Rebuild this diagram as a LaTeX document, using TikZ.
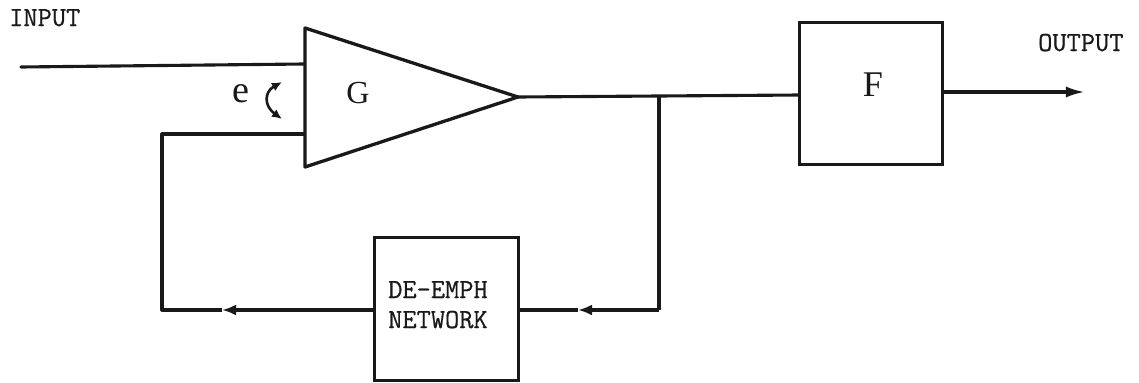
\documentclass[tikz,border=0pt]{standalone}
\usepackage{fontspec}
\setmainfont{Liberation Serif}
\newfontfamily\twfont[FakeBold=0.6]{Latin Modern Mono}
\usetikzlibrary{arrows.meta}
\tikzset{
 wire/.style={line width=3.1pt,black!90},
 box/.style={draw=black!90,line width=3.3pt,fill=white,inner sep=0pt},
 lab/.style={inner sep=0pt,font=\twfont\fontsize{27.5}{30}\selectfont,black!90},
 big/.style={inner sep=0pt,black!90},
 tip/.style={-{Latex[length=14pt,width=11pt]}}
}
\begin{document}
\begin{tikzpicture}[x=0.99626pt,y=-0.99626pt]
\useasboundingbox (0,0) rectangle (1139,382);
\fill[white] (0,0) rectangle (1139,382);
\coordinate (in) at (21,67);
\coordinate (inb) at (304,64);
\coordinate (fbt) at (304,134);
\coordinate (fbc) at (162,134);
\coordinate (fbb) at (162,310);
\coordinate (tip) at (518,97);
\coordinate (tap) at (659,97);
\coordinate (tapb) at (659,310);
\coordinate (out) at (1085,92);
\coordinate (f1) at (800,95);
\coordinate (d1) at (518,310);
\coordinate (d2) at (375,310);
\draw[wire,line cap=round] (in) -- (inb);
\draw[line width=3.3pt,black!90,line join=round] (305,28) -- (tip) -- (305,167) -- cycle;
\node[box,minimum width=143pt,minimum height=141pt] (f) at (871,93.5) {};
\node[box,minimum width=143pt,minimum height=142pt] (de) at (446.5,309) {};
\node[lab,anchor=base west] (l1) at (388,298) {DE-EMPH};
\node[lab,anchor=base west] (l2) at (388,328) {NETWORK};
\node[big,font=\fontsize{32}{34}\selectfont] (g) at (358,93) {G};
\node[big,font=\fontsize{36}{38}\selectfont] (ff) at (873,85) {F};
\node[big,font=\fontsize{38}{40}\selectfont] (e) at (241,94) {e};
\node[lab,anchor=base west] (inp) at (9,26) {INPUT};
\node[lab,anchor=base west] (outp) at (1038,51) {OUTPUT};
\draw[wire] (tip) -- (f1);
\draw[wire] (tap) -- (tapb);
\draw[wire,tip] (tapb) -- (578,310);
\draw[wire] (578,310) -- (d1);
\draw[wire,tip] (d2) -- (222,310);
\draw[wire,line join=round] (222,310) -- (fbb) -- (fbc) -- (fbt);
\draw[wire,-{Latex[length=19pt,width=11pt]}] (943,92) -- (out);
\draw[line width=2.6pt,black!90,{Latex[length=10pt,width=9pt]}-{Latex[length=10pt,width=9pt]}] (282,82) .. controls (264,92) and (264,106) .. (282,119);
\end{tikzpicture}
\end{document}
